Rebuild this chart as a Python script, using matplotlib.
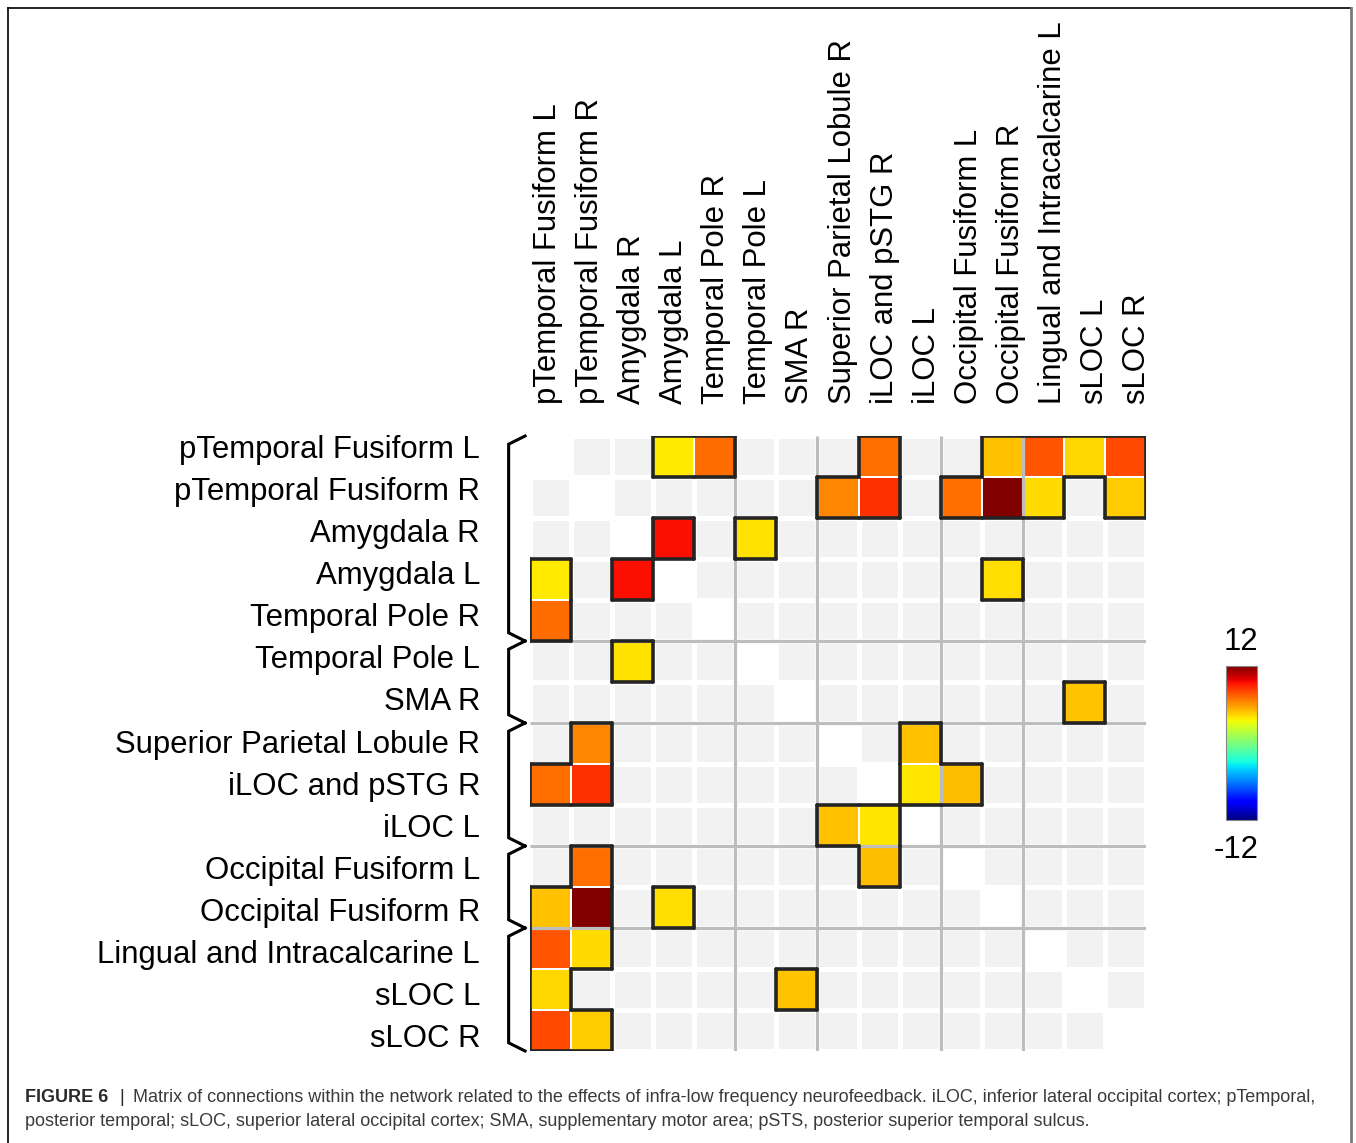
import numpy as np
import matplotlib
matplotlib.use("Agg")
import matplotlib.pyplot as plt
from matplotlib.collections import LineCollection
from matplotlib.lines import Line2D
from matplotlib import cm, colors

plt.rcParams['font.family'] = ['Liberation Sans', 'DejaVu Sans']

regions = ["pTemporal Fusiform L", "pTemporal Fusiform R", "Amygdala R", "Amygdala L",
           "Temporal Pole R", "Temporal Pole L", "SMA R", "Superior Parietal Lobule R",
           "iLOC and pSTG R", "iLOC L", "Occipital Fusiform L", "Occipital Fusiform R",
           "Lingual and Intracalcarine L", "sLOC L", "sLOC R"]

# significant connections (upper triangle, mirrored below)
conn_row = [0, 0, 0, 0, 0, 0, 0, 1, 1, 1, 1, 1, 1, 2, 2, 3, 6, 7, 8, 8]
conn_col = [3, 4, 8, 11, 12, 13, 14, 7, 8, 10, 11, 12, 14, 3, 5, 11, 13, 9, 9, 10]
conn_val = [3.9, 7.1, 7.0, 4.9, 7.6, 4.4, 7.9, 6.4, 8.6, 7.0, 12.0, 4.3, 4.6,
            9.4, 4.1, 4.2, 4.8, 4.9, 4.0, 5.0]

# network groups (start, end) along both axes
groups = [(0, 5), (5, 7), (7, 10), (10, 12), (12, 15)]

vmin, vmax = -12, 12
n = len(regions)

mat = np.full((n, n), np.nan)
for r, c, v in zip(conn_row, conn_col, conn_val):
    mat[r, c] = v
    mat[c, r] = v
sig = ~np.isnan(mat)

W, H = 1356, 1143
fig = plt.figure(figsize=(W / 100, H / 100), dpi=100)
ax = fig.add_axes([530 / W, 1 - 1051 / H, 616 / W, 615 / H])

# light gray background cells, diagonal left blank
bg = np.ones((n, n))
bg[np.eye(n, dtype=bool)] = np.nan
ax.pcolormesh(np.ma.masked_invalid(bg), cmap=colors.ListedColormap(['#f2f2f2']),
              edgecolors='white', linewidth=2.3)

# colored significant cells
ax.pcolormesh(np.ma.masked_invalid(mat), cmap='jet', vmin=vmin, vmax=vmax,
              edgecolors='white', linewidth=1.4, zorder=2)

# group separators
for s, e in groups[:-1]:
    ax.plot([0, n], [e, e], color='#bdbdbd', lw=2.3, zorder=3, solid_capstyle='butt')
    ax.plot([e, e], [0, n], color='#bdbdbd', lw=2.3, zorder=3, solid_capstyle='butt')

# outline around each cluster of significant cells
segs = []
for r in range(n):
    for c in range(n):
        if not sig[r, c]:
            continue
        if r == 0 or not sig[r - 1, c]:
            segs.append([(c, r), (c + 1, r)])
        if r == n - 1 or not sig[r + 1, c]:
            segs.append([(c, r + 1), (c + 1, r + 1)])
        if c == 0 or not sig[r, c - 1]:
            segs.append([(c, r), (c, r + 1)])
        if c == n - 1 or not sig[r, c + 1]:
            segs.append([(c + 1, r), (c + 1, r + 1)])
ax.add_collection(LineCollection(segs, colors='#242424', linewidths=2.6,
                                 capstyle='round', joinstyle='round', zorder=4))

# brackets grouping the rows
for s, e in groups:
    ax.plot([-0.12, -0.52, -0.52, -0.12], [s, s + 0.2, e - 0.2, e],
            color='black', lw=2.2, clip_on=False, solid_joinstyle='miter')

ax.set_xlim(0, n)
ax.set_ylim(n, 0)
# label rows are set on a slightly wider pitch than the cells
ax.set_yticks(np.linspace(0.25, 14.63, n))
ax.set_yticklabels(regions, fontsize=22.4)
ax.set_xticks(np.linspace(0.44, 14.78, n))
ax.set_xticklabels(regions, fontsize=22.4, rotation=90)
ax.xaxis.tick_top()
ax.tick_params(length=0)
ax.tick_params(axis='y', pad=36)
ax.tick_params(axis='x', pad=23)
for sp in ax.spines.values():
    sp.set_visible(False)

# colorbar
cax = fig.add_axes([1226 / W, 1 - 820 / H, 31 / W, 154 / H])
cb = fig.colorbar(cm.ScalarMappable(norm=colors.Normalize(vmin, vmax), cmap='jet'), cax=cax)
cb.set_ticks([])
cb.outline.set_edgecolor('#888888')
cb.outline.set_linewidth(0.8)
fig.text(1241 / W, 1 - 642 / H, "12", fontsize=22.4, ha='center', va='center')
fig.text(1236 / W, 1 - 850 / H, "-12", fontsize=22.4, ha='center', va='center')

# frame
fig.add_artist(Line2D([8 / W, 8 / W], [0, 1 - 8 / H], color='black', lw=1.2))
fig.add_artist(Line2D([8 / W, 1351 / W], [1 - 8 / H, 1 - 8 / H], color='black', lw=1.2))
fig.add_artist(Line2D([1351 / W, 1351 / W], [0, 1 - 8 / H], color='#7a7a7a', lw=2.0))

# caption
cap_fs = 13
fig.text(25 / W, 1 - 1097 / H, "FIGURE 6", fontsize=cap_fs, fontweight='bold',
         color='#2a2a2a', va='center')
fig.text(119 / W, 1 - 1097 / H, "|", fontsize=cap_fs, color='#2a2a2a', va='center')
fig.text(133 / W, 1 - 1097 / H,
         "Matrix of connections within the network related to the effects of infra-low "
         "frequency neurofeedback. iLOC, inferior lateral occipital cortex; pTemporal,",
         fontsize=cap_fs, color='#3a3a3a', va='center')
fig.text(25 / W, 1 - 1122 / H,
         "posterior temporal; sLOC, superior lateral occipital cortex; SMA, supplementary "
         "motor area; pSTS, posterior superior temporal sulcus.",
         fontsize=cap_fs, color='#3a3a3a', va='center')

fig.savefig("out.png", dpi=100)
